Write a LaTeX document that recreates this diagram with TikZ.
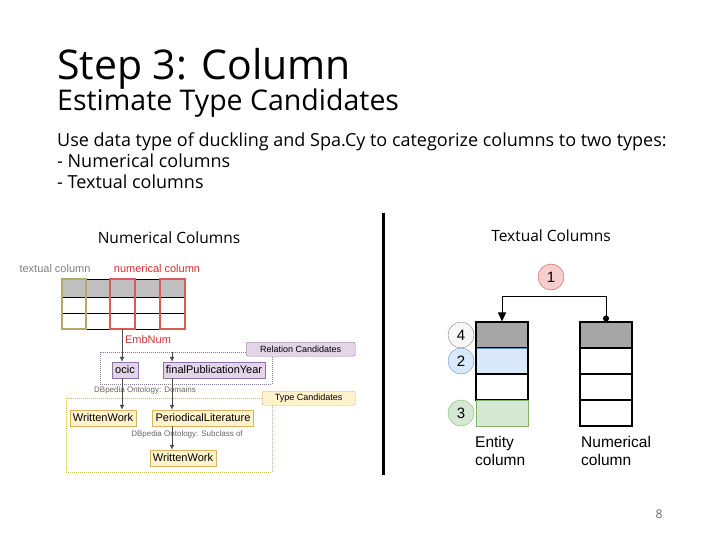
\documentclass[tikz,border=0pt]{standalone}
\usepackage{fontspec}
\setmainfont{Open Sans}
\newfontfamily\arialfont{Liberation Sans}
\usetikzlibrary{arrows.meta}
\definecolor{numred}{HTML}{D0302F}
\definecolor{textolive}{HTML}{B5A86A}
\definecolor{relfill}{HTML}{E1D5E7}
\definecolor{reldraw}{HTML}{9673A6}
\definecolor{typefill}{HTML}{FFF2CC}
\definecolor{typedraw}{HTML}{D6B656}
\definecolor{bluefill}{HTML}{DAE8FC}
\definecolor{bluedraw}{HTML}{6C8EBF}
\definecolor{greenfill}{HTML}{D5E8D4}
\definecolor{greendraw}{HTML}{82B366}
\definecolor{redfill}{HTML}{F8CECC}
\definecolor{reddraw}{HTML}{B85450}
\begin{document}
\begin{tikzpicture}[x=1pt,y=-1pt,
	every node/.style={inner sep=0pt},
	relbox/.style={draw=reldraw,fill=relfill,font=\arialfont\fontsize{11}{11}\selectfont,inner xsep=3pt,minimum height=16pt},
	typebox/.style={draw=typedraw,fill=typefill,font=\arialfont\fontsize{11}{11}\selectfont,inner xsep=3pt,minimum height=16pt},
	tagbox/.style={rounded corners=2pt,font=\arialfont\fontsize{9}{9}\selectfont,anchor=north west,minimum height=14pt},
	cell/.style={draw,line width=1.1pt,minimum width=52pt,minimum height=26pt},
	num/.style={circle,draw,minimum size=26pt,font=\arialfont\fontsize{15}{15}\selectfont},
	flow/.style={-{Latex[length=5pt,width=5pt]},line width=1pt,color=black!70},
	small/.style={font=\arialfont\fontsize{8}{8}\selectfont,color=black!60}
]
\useasboundingbox (0,0) rectangle (720,540);
%title and text
\node (title) [anchor=base west,font=\fontsize{41}{41}\selectfont] at (57,80) {Step 3: Column};
\node (subtitle) [anchor=base west,font=\fontsize{28.5}{28.5}\selectfont] at (57,111) {Estimate Type Candidates};
\node (body) [anchor=north west,align=left,font=\fontsize{18}{21}\selectfont] at (57,133)
	{Use data type of duckling and Spa.Cy to categorize columns to two types:\\
	 - Numerical columns\\ - Textual columns};
\node (numhead) [font=\fontsize{15.5}{15.5}\selectfont] at (169,238) {Numerical Columns};
\node (texthead) [font=\fontsize{15.5}{15.5}\selectfont] at (551,236) {Textual Columns};
\draw[line width=3pt] (383,213) -- (383,475);
\node (page) [font=\fontsize{12}{12}\selectfont,color=black!60] at (659,514) {8};
%left: table
\fill[black!25] (62,279) rectangle (185,297);
\foreach \x in {62,86,110,135,160,185} \draw[line width=0.8pt] (\x,279) -- (\x,329);
\foreach \y in {279,297,313,329} \draw[line width=0.8pt] (62,\y) -- (185,\y);
\draw[textolive,line width=1.3pt] (62,279) rectangle (86,329);
\draw[numred!80,line width=1.3pt] (110,279) rectangle (135,329);
\draw[numred!80,line width=1.3pt] (160,279) rectangle (185,329);
\node (textcol) [font=\arialfont\fontsize{11}{11}\selectfont,color=black!50] at (55,269) {textual column};
\node (numcol) [font=\arialfont\fontsize{11}{11}\selectfont,color=numred] at (157,269) {numerical column};
\node (embnum) [font=\arialfont\fontsize{11}{11}\selectfont,color=numred] at (148,340) {EmbNum};
\coordinate (colbot) at (122,329);
%left: candidates
\draw[reldraw,densely dotted,line width=1pt] (100,352) rectangle (272,384);
\node (reltag) [relbox,tagbox,minimum width=109pt] at (246,342) {Relation Candidates};
\node (ocic) [relbox] at (125,370) {ocic};
\node (fpy) [relbox] at (214,370) {finalPublicationYear};
\coordinate (fpytop) at (172,352);
\node (domains) [small] at (145,390) {DBpedia Ontology: Domains};
\draw[typedraw,densely dotted,line width=1pt] (66,398) rectangle (272,472);
\node (typetag) [typebox,tagbox,minimum width=93pt] at (262,391) {Type Candidates};
\node (ww) [typebox] at (103,418) {WrittenWork};
\node (pl) [typebox] at (203,418) {PeriodicalLiterature};
\node (subcls) [small] at (187,434) {DBpedia Ontology: Subclass of};
\node (ww2) [typebox] at (183,458) {WrittenWork};
\draw[flow] (colbot) -- (ocic.north -| colbot);
\draw[flow] (fpytop) -- (fpy.north -| fpytop);
\draw[flow] (ocic.south -| colbot) -- (ww.north -| colbot);
\draw[flow] (fpy.south -| fpytop) -- (pl.north -| fpytop);
\draw[flow] (pl.south -| fpytop) -- (ww2.north -| fpytop);
%right: columns
\node (e1) [cell,fill=black!35] at (502,335) {};
\node (e2) [cell,fill=bluefill,draw=bluedraw,line width=0.6pt] at (502,361) {};
\node (e3) [cell] at (502,387) {};
\node (e4) [cell,fill=greenfill,draw=greendraw,line width=0.6pt] at (502,413) {};
\draw[line width=1.1pt] (476,348) -- (476,400) (528,348) -- (528,400);
\node (n1) [cell,fill=black!35] at (606,335) {};
\node (n2) [cell] at (606,361) {};
\node (n3) [cell] at (606,387) {};
\node (n4) [cell] at (606,413) {};
\node (c1) [num,fill=redfill,draw=reddraw] at (551,277) {1};
\node (c4) [num,fill=black!3,draw=black!50] at (461,335) {4};
\node (c2) [num,fill=bluefill,draw=bluedraw] at (461,361) {2};
\node (c3) [num,fill=greenfill,draw=greendraw] at (461,413) {3};
\draw[line width=1pt,{Circle[length=6pt]}-{Triangle[length=9pt,width=8pt]}] (n1.north) -- ++(0,-25) -| (e1.north);
\node (elabel) [anchor=north west,align=left,font=\arialfont\fontsize{15.5}{18}\selectfont] at (475,436) {Entity\\column};
\node (nlabel) [anchor=north west,align=left,font=\arialfont\fontsize{15.5}{18}\selectfont] at (581,436) {Numerical\\column};
\end{tikzpicture}
\end{document}
